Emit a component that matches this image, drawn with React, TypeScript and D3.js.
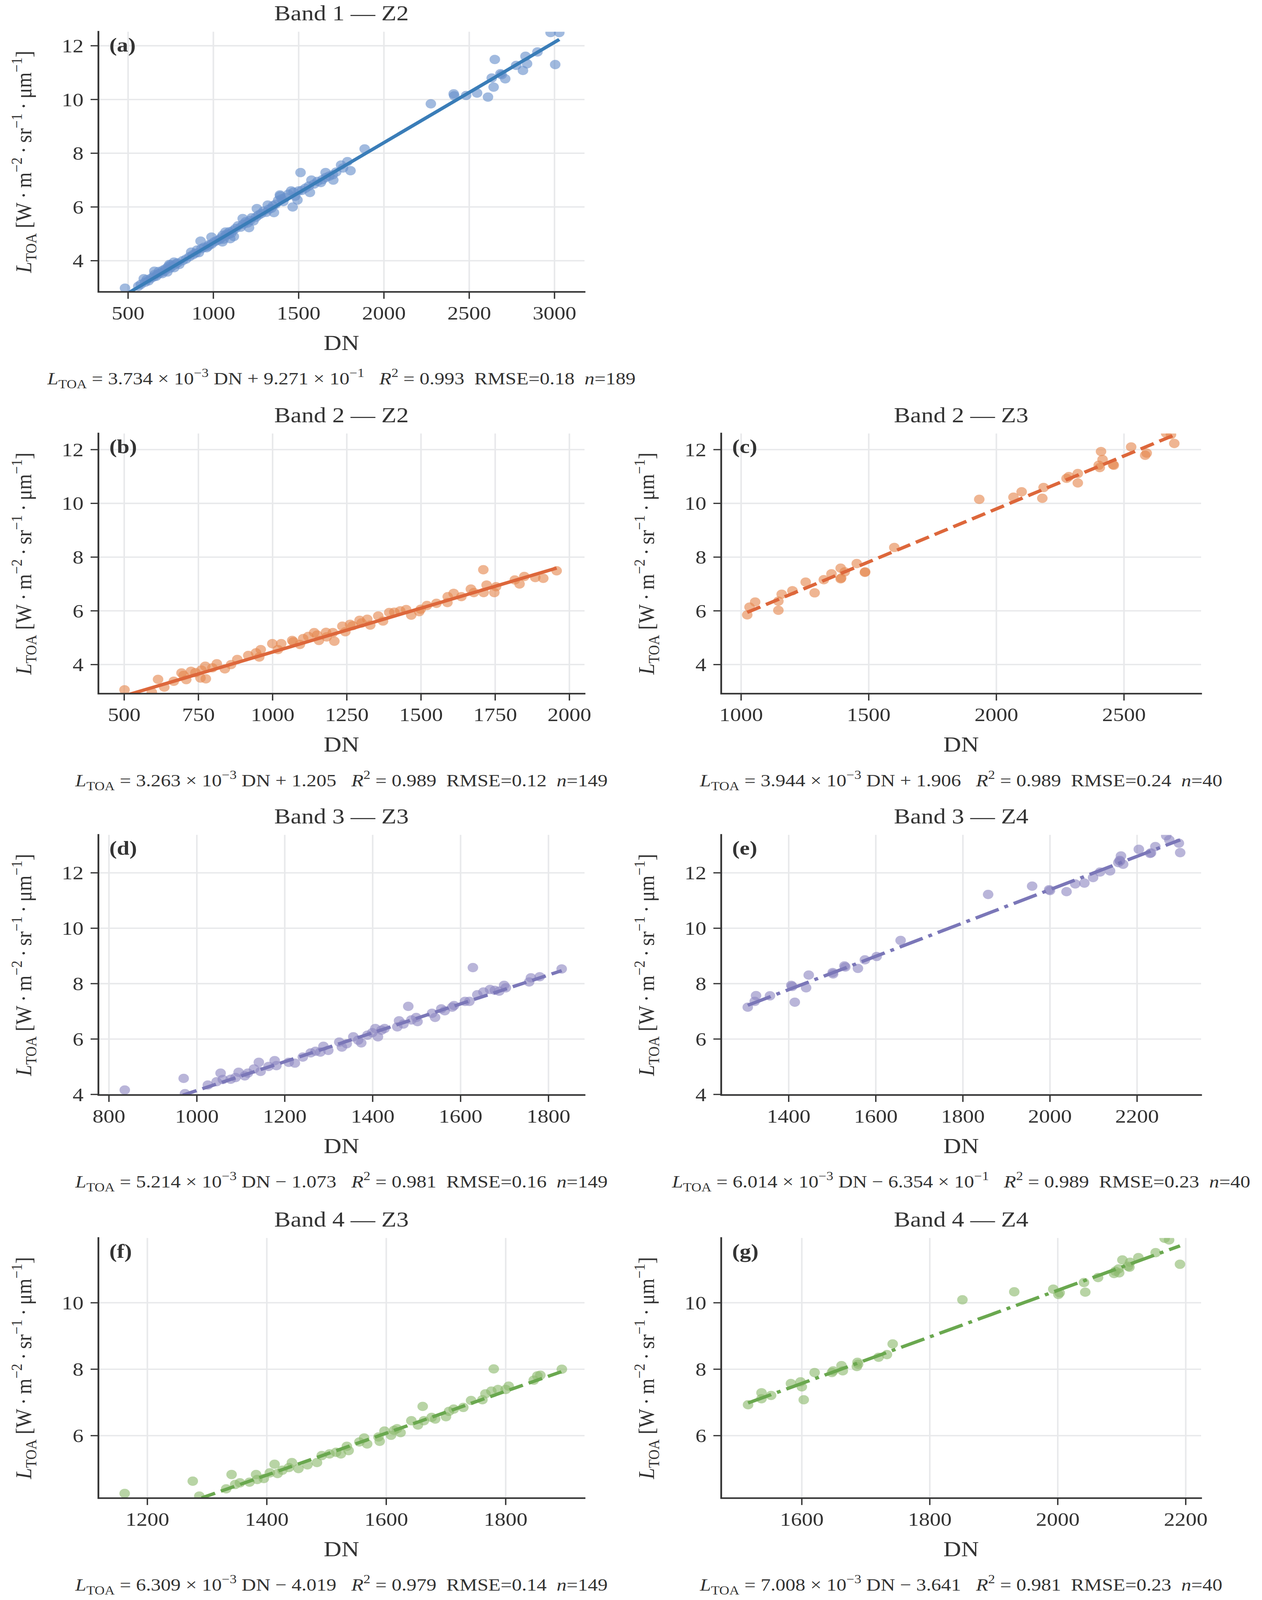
import React from 'react';
import * as d3 from 'd3';

type Pt = [number, number]; // [DN, L_TOA]

// ---- points (DN, L_TOA) ----
const band1Z2: Pt[] = [
  [482, 2.98], [560, 3.05], [575, 3.12], [592, 3.33], [600, 3.2], [610, 3.3], [620, 3.25], [635, 3.35],
  [650, 3.4], [654, 3.61], [655, 3.48], [665, 3.42], [675, 3.5], [680, 3.6], [690, 3.55], [700, 3.52],
  [705, 3.65], [715, 3.62], [720, 3.7], [730, 3.58], [735, 3.78], [742, 3.86], [745, 3.72], [750, 3.85],
  [760, 3.8], [769, 3.95], [770, 3.74], [780, 3.88], [790, 3.92], [800, 3.86], [820, 4.0], [840, 4.06],
  [860, 4.15], [870, 4.32], [880, 4.22], [895, 4.28], [905, 4.4], [915, 4.3], [925, 4.73], [930, 4.45],
  [945, 4.5], [960, 4.48], [970, 4.54], [975, 4.6], [989, 4.88], [990, 4.62], [1005, 4.7], [1020, 4.75],
  [1035, 4.78], [1045, 4.85], [1053, 4.7], [1055, 4.95], [1060, 4.8], [1070, 4.92], [1071, 5.07], [1080, 5.0],
  [1090, 4.98], [1095, 5.08], [1099, 4.82], [1105, 5.02], [1115, 5.12], [1120, 4.9], [1130, 5.2], [1145, 5.3],
  [1160, 5.25], [1172, 5.57], [1175, 5.36], [1190, 5.45], [1200, 5.4], [1209, 5.23], [1215, 5.5], [1225, 5.6],
  [1235, 5.48], [1250, 5.62], [1255, 5.94], [1265, 5.7], [1280, 5.75], [1295, 5.85], [1310, 5.8], [1319, 6.07],
  [1325, 5.92], [1340, 5.95], [1350, 6.05], [1355, 5.79], [1365, 6.1], [1380, 6.25], [1390, 6.45], [1392, 6.41],
  [1400, 6.3], [1410, 6.2], [1420, 6.35], [1440, 6.48], [1456, 6.6], [1465, 6.0], [1470, 6.55], [1480, 6.4],
  [1493, 6.26], [1500, 6.6], [1511, 7.28], [1520, 6.62], [1540, 6.7], [1560, 6.78], [1566, 6.54], [1575, 7.0],
  [1590, 6.85], [1610, 6.95], [1630, 6.91], [1640, 7.02], [1658, 7.28], [1660, 7.1], [1680, 7.15], [1700, 7.2],
  [1703, 7.0], [1720, 7.3], [1749, 7.56], [1760, 7.45], [1786, 7.69], [1804, 7.35], [1887, 8.16], [2275, 9.84],
  [2409, 10.21], [2412, 10.14], [2482, 10.15], [2546, 10.24], [2610, 10.09], [2632, 10.8], [2643, 10.46],
  [2650, 11.49], [2683, 10.96], [2690, 10.92], [2711, 10.77], [2775, 11.27], [2815, 11.08], [2830, 11.61],
  [2839, 11.33], [2900, 11.77], [2977, 12.49], [3004, 11.3], [3028, 12.49],
];

const band2Z2: Pt[] = [
  [501, 3.06], [593, 2.97], [614, 3.45], [635, 3.16], [667, 3.38], [693, 3.69], [700, 3.6], [709, 3.44],
  [725, 3.75], [740, 3.7], [757, 3.5], [760, 3.8], [773, 3.94], [775, 3.47], [797, 3.88], [812, 4.03],
  [839, 3.84], [860, 4.0], [881, 4.19], [918, 4.34], [944, 4.44], [955, 4.28], [960, 4.56], [999, 4.78],
  [1018, 4.56], [1029, 4.78], [1066, 4.9], [1070, 4.85], [1092, 4.75], [1103, 4.97], [1120, 5.05], [1140, 5.19],
  [1150, 5.1], [1156, 4.9], [1180, 5.2], [1182, 5.03], [1203, 5.19], [1208, 4.87], [1235, 5.43], [1245, 5.22],
  [1261, 5.5], [1270, 5.45], [1293, 5.65], [1300, 5.55], [1319, 5.69], [1329, 5.47], [1356, 5.81], [1372, 5.62],
  [1393, 5.94], [1410, 5.95], [1430, 6.0], [1450, 6.05], [1467, 5.84], [1494, 5.97], [1499, 6.06], [1520, 6.2],
  [1552, 6.28], [1589, 6.31], [1590, 6.53], [1610, 6.65], [1636, 6.53], [1668, 6.81], [1678, 6.68], [1710, 7.53],
  [1711, 6.68], [1721, 6.96], [1747, 6.68], [1753, 6.9], [1816, 7.15], [1832, 7.0], [1848, 7.28], [1885, 7.24],
  [1912, 7.21], [1957, 7.49],
];

const band2Z3: Pt[] = [
  [1024, 5.85], [1033, 6.14], [1055, 6.33], [1146, 6.02], [1146, 6.36], [1159, 6.62], [1201, 6.75], [1253, 7.07],
  [1288, 6.67], [1324, 7.16], [1354, 7.38], [1390, 7.59], [1390, 7.19], [1392, 7.22], [1406, 7.45], [1453, 7.76],
  [1485, 7.43], [1486, 7.45], [1600, 8.36], [1933, 10.15], [2067, 10.23], [2099, 10.43], [2180, 10.19], [2185, 10.59],
  [2275, 10.93], [2284, 11.0], [2319, 10.76], [2319, 11.11], [2401, 11.42], [2405, 11.33], [2410, 11.93], [2416, 11.63],
  [2457, 11.44], [2460, 11.42], [2528, 12.1], [2583, 11.79], [2589, 11.87], [2665, 12.61], [2684, 12.56], [2697, 12.23],
];

const band3Z3: Pt[] = [
  [836, 4.16], [970, 4.58], [973, 4.03], [1025, 4.34], [1045, 4.46], [1054, 4.77], [1059, 4.54], [1077, 4.55],
  [1088, 4.61], [1095, 4.8], [1109, 4.67], [1116, 4.77], [1130, 4.92], [1141, 5.16], [1145, 4.83], [1163, 5.01],
  [1177, 5.22], [1181, 5.04], [1209, 5.16], [1223, 5.13], [1241, 5.35], [1259, 5.5], [1270, 5.56], [1281, 5.53],
  [1288, 5.74], [1299, 5.59], [1324, 5.89], [1330, 5.71], [1341, 5.83], [1356, 6.08], [1367, 5.96], [1374, 5.86],
  [1388, 6.14], [1399, 6.23], [1406, 6.38], [1412, 6.08], [1420, 6.32], [1427, 6.38], [1456, 6.44], [1460, 6.66],
  [1470, 6.54], [1481, 7.18], [1488, 6.69], [1499, 6.78], [1502, 6.63], [1535, 6.93], [1542, 6.78], [1556, 7.09],
  [1564, 7.02], [1581, 7.15], [1585, 7.21], [1610, 7.36], [1620, 7.36], [1628, 8.58], [1638, 7.6], [1652, 7.7],
  [1667, 7.79], [1678, 7.76], [1688, 7.73], [1699, 7.94], [1703, 7.85], [1756, 8.06], [1760, 8.21], [1780, 8.25],
  [1830, 8.53],
];

const band3Z4: Pt[] = [
  [1306, 7.15], [1322, 7.36], [1325, 7.57], [1357, 7.56], [1406, 7.94], [1408, 7.9], [1414, 7.33], [1440, 7.85],
  [1446, 8.31], [1501, 8.4], [1502, 8.35], [1528, 8.64], [1530, 8.6], [1559, 8.55], [1575, 8.86], [1602, 8.98],
  [1657, 9.56], [1858, 11.22], [1959, 11.52], [1998, 11.39], [2000, 11.36], [2038, 11.32], [2058, 11.6], [2079, 11.63],
  [2099, 11.83], [2115, 12.03], [2138, 12.07], [2157, 12.37], [2161, 12.42], [2163, 12.61], [2168, 12.31], [2204, 12.85],
  [2230, 12.7], [2242, 12.95], [2267, 13.34], [2274, 13.19], [2296, 13.07], [2299, 12.73], [2160, 12.45], [2232, 12.72],
];

const band4Z3: Pt[] = [
  [1162, 4.26], [1276, 4.63], [1287, 4.18], [1332, 4.4], [1341, 4.83], [1347, 4.53], [1355, 4.58], [1371, 4.6],
  [1382, 4.83], [1384, 4.68], [1395, 4.71], [1405, 4.88], [1413, 5.14], [1418, 4.86], [1426, 4.96], [1437, 5.04],
  [1442, 5.19], [1453, 5.01], [1468, 5.12], [1484, 5.19], [1492, 5.4], [1505, 5.45], [1516, 5.5], [1524, 5.45],
  [1534, 5.68], [1537, 5.55], [1555, 5.81], [1563, 5.93], [1568, 5.75], [1587, 5.96], [1589, 5.83], [1597, 6.14],
  [1608, 6.01], [1613, 6.16], [1618, 6.21], [1624, 6.09], [1642, 6.45], [1653, 6.32], [1661, 6.88], [1663, 6.45],
  [1676, 6.55], [1682, 6.5], [1700, 6.57], [1705, 6.73], [1713, 6.8], [1729, 6.85], [1742, 7.06], [1761, 7.08],
  [1766, 7.26], [1776, 7.34], [1780, 8.01], [1787, 7.39], [1800, 7.39], [1805, 7.49], [1847, 7.67], [1853, 7.8],
  [1858, 7.82], [1894, 8.0],
];

const band4Z4: Pt[] = [
  [1516, 6.93], [1537, 7.29], [1537, 7.11], [1552, 7.21], [1583, 7.57], [1598, 7.62], [1600, 7.47], [1603, 7.08],
  [1620, 7.9], [1647, 7.9], [1649, 7.95], [1662, 8.11], [1664, 7.95], [1686, 8.08], [1687, 8.21], [1688, 8.15],
  [1720, 8.36], [1733, 8.44], [1742, 8.76], [1851, 10.09], [1932, 10.33], [1993, 10.41], [2001, 10.25], [2003, 10.3],
  [2041, 10.61], [2043, 10.32], [2063, 10.76], [2088, 10.88], [2095, 11.02], [2096, 10.9], [2101, 11.29], [2112, 11.07],
  [2113, 11.22], [2126, 11.36], [2153, 11.51], [2167, 11.94], [2174, 11.89], [2191, 11.16], [2090, 10.95], [2110, 11.1],
];

// ---- fit coefficients and printed statistics ----
const fitSlopes = [3.734e-3, 3.263e-3, 3.944e-3, 5.214e-3, 6.014e-3, 6.309e-3, 7.008e-3];
const fitIntercepts = [0.9271, 1.205, 1.906, -1.073, -0.6354, -4.019, -3.641];
const slopeText = ['3.734', '3.263', '3.944', '5.214', '6.014', '6.309', '7.008'];
const interceptText = ['9.271', '1.205', '1.906', '1.073', '6.354', '4.019', '3.641'];
const interceptExp = ['−1', '', '', '', '−1', '', ''];
const r2Text = ['0.993', '0.989', '0.989', '0.981', '0.989', '0.979', '0.981'];
const rmseText = ['0.18', '0.12', '0.24', '0.16', '0.23', '0.14', '0.23'];
const nText = ['189', '149', '40', '149', '40', '149', '40'];
const titles = ['Band 1 — Z2', 'Band 2 — Z2', 'Band 2 — Z3', 'Band 3 — Z3', 'Band 3 — Z4', 'Band 4 — Z3', 'Band 4 — Z4'];
const panelLetters = ['(a)', '(b)', '(c)', '(d)', '(e)', '(f)', '(g)'];

// ---- tick labels ----
const xTicksA = [500, 1000, 1500, 2000, 2500, 3000];
const xTicksB = [500, 750, 1000, 1250, 1500, 1750, 2000];
const xTicksC = [1000, 1500, 2000, 2500];
const xTicksD = [800, 1000, 1200, 1400, 1600, 1800];
const xTicksE = [1400, 1600, 1800, 2000, 2200];
const xTicksF = [1200, 1400, 1600, 1800];
const xTicksG = [1600, 1800, 2000, 2200];
const yTicksMain = [4, 6, 8, 10, 12];
const yTicksBand4 = [6, 8, 10];

const W = 3232;
const H = 4632;
// the photo only keeps the top 4096 rows, so the figure is fitted into that height
const SHOT_H = 4096;
const FONT = "'Liberation Serif', 'DejaVu Serif', serif";
const INK = '#333333';
const colLeft = [252, 1847];
const colRight = [1497, 3076];
const rowTop = [92, 1255, 2417, 3584];
const plotH = 753;

const BLUE = { line: '#3a7db8', dot: '#6890cb' };
const ORANGE = { line: '#dd673b', dot: '#e5874f' };
const PURPLE = { line: '#7b77b8', dot: '#8e87c2' };
const GREEN = { line: '#6aa84f', dot: '#8cba6e' };

const DASHED = '37 16';
const DASHDOT = '64 16 10 16';

const panels = [
  { row: 0, col: 0, data: band1Z2, xDomain: [326, 3176], yDomain: [2.84, 12.52], xTicks: xTicksA, yTicks: yTicksMain, color: BLUE, dash: undefined },
  { row: 1, col: 0, data: band2Z2, xDomain: [413, 2051], yDomain: [2.92, 12.6], xTicks: xTicksB, yTicks: yTicksMain, color: ORANGE, dash: undefined },
  { row: 1, col: 1, data: band2Z3, xDomain: [922, 2802], yDomain: [2.92, 12.6], xTicks: xTicksC, yTicks: yTicksMain, color: ORANGE, dash: DASHED },
  { row: 2, col: 0, data: band3Z3, xDomain: [776, 1882], yDomain: [3.98, 13.37], xTicks: xTicksD, yTicks: yTicksMain, color: PURPLE, dash: DASHED },
  { row: 2, col: 1, data: band3Z4, xDomain: [1245, 2347], yDomain: [3.98, 13.37], xTicks: xTicksE, yTicks: yTicksMain, color: PURPLE, dash: DASHDOT },
  { row: 3, col: 0, data: band4Z3, xDomain: [1118, 1932], yDomain: [4.12, 11.95], xTicks: xTicksF, yTicks: yTicksBand4, color: GREEN, dash: DASHED },
  { row: 3, col: 1, data: band4Z4, xDomain: [1474, 2224], yDomain: [4.12, 11.95], xTicks: xTicksG, yTicks: yTicksBand4, color: GREEN, dash: DASHDOT },
];

type Seg = [string, 'n' | 'i' | 'sub' | 'sup'];

// mathtext-like run of tspans; shifts are relative to the baseline
const RichText = ({ segs, size, ...rest }: { segs: Seg[]; size: number; [k: string]: any }) => {
  let shift = 0;
  const small = size * 0.7;
  return (
    <text fontSize={size} style={{ whiteSpace: 'pre' }} {...rest}>
      {segs.map(([t, kind], i) => {
        const target = kind === 'sub' ? size * 0.22 : kind === 'sup' ? -size * 0.42 : 0;
        const dy = target - shift;
        shift = target;
        return (
          <tspan
            key={i}
            dy={dy}
            fontSize={kind === 'sub' || kind === 'sup' ? small : size}
            fontStyle={kind === 'i' ? 'italic' : 'normal'}
          >
            {t}
          </tspan>
        );
      })}
    </text>
  );
};

const eqSegs = (i: number): Seg[] => {
  const sign = fitIntercepts[i] < 0 ? '−' : '+';
  const segs: Seg[] = [
    ['L', 'i'], ['TOA', 'sub'], [` = ${slopeText[i]} × 10`, 'n'], ['−3', 'sup'],
    [` DN ${sign} ${interceptText[i]}`, 'n'],
  ];
  if (interceptExp[i]) segs.push([' × 10', 'n'], [interceptExp[i], 'sup']);
  segs.push(['   ', 'n'], ['R', 'i'], ['2', 'sup'], [` = ${r2Text[i]}  RMSE=${rmseText[i]}  `, 'n'], ['n', 'i'], [`=${nText[i]}`, 'n']);
  return segs;
};

const yLabelSegs: Seg[] = [
  ['L', 'i'], ['TOA', 'sub'], [' [W\u2009·\u2009m', 'n'], ['−2', 'sup'], ['\u2009·\u2009sr', 'n'], ['−1', 'sup'],
  ['\u2009·\u2009μm', 'n'], ['−1', 'sup'], [']', 'n'],
];

const Panel = ({ idx }: { idx: number }) => {
  const p = panels[idx];
  const left = colLeft[p.col];
  const right = colRight[p.col];
  const top = rowTop[p.row];
  const bottom = top + plotH;
  const x = d3.scaleLinear().domain(p.xDomain).range([left, right]);
  const y = d3.scaleLinear().domain(p.yDomain).range([bottom, top]);
  const [x0, x1] = d3.extent(p.data, (d) => d[0]) as [number, number];
  const fit = (v: number) => fitSlopes[idx] * v + fitIntercepts[idx];
  const linePath = d3.line<number>().x((v) => x(v)).y((v) => y(fit(v)))([x0, x1]) || '';
  const cx = (left + right) / 2;
  const clipId = `clip-${idx}`;

  return (
    <g>
      <defs>
        <clipPath id={clipId}>
          <rect x={left} y={top} width={right - left} height={plotH} />
        </clipPath>
      </defs>
      {/* grid */}
      <g stroke="#e8e9eb" strokeWidth={4}>
        {p.xTicks.map((t) => (
          <line key={`gx${t}`} x1={x(t)} x2={x(t)} y1={top} y2={bottom} />
        ))}
        {p.yTicks.map((t) => (
          <line key={`gy${t}`} x1={left} x2={right} y1={y(t)} y2={y(t)} />
        ))}
      </g>
      <g clipPath={`url(#${clipId})`}>
        {p.data.map((d, i) => (
          <circle key={i} cx={x(d[0])} cy={y(d[1])} r={13.5} fill={p.color.dot} fillOpacity={0.62} />
        ))}
        <path d={linePath} fill="none" stroke={p.color.line} strokeWidth={9.5} strokeDasharray={p.dash} />
      </g>
      {/* spines */}
      <path d={`M${left},${top}V${bottom}H${right}`} fill="none" stroke={INK} strokeWidth={4.5} strokeLinecap="square" />
      {/* ticks */}
      <g stroke={INK} strokeWidth={3.5}>
        {p.xTicks.map((t) => (
          <line key={`tx${t}`} x1={x(t)} x2={x(t)} y1={bottom} y2={bottom + 20} />
        ))}
        {p.yTicks.map((t) => (
          <line key={`ty${t}`} x1={left - 20} x2={left} y1={y(t)} y2={y(t)} />
        ))}
      </g>
      <g fontFamily={FONT} fill={INK} fontSize={56}>
        {p.xTicks.map((t) => (
          <text key={`lx${t}`} x={x(t)} y={bottom + 80} textAnchor="middle">{t}</text>
        ))}
        {p.yTicks.map((t) => (
          <text key={`ly${t}`} x={left - 38} y={y(t)} dy="0.34em" textAnchor="end">{t}</text>
        ))}
      </g>
      <g fontFamily={FONT} fill={INK}>
        <text x={cx} y={top - 33} fontSize={63} textAnchor="middle">{titles[idx]}</text>
        <text x={left + 28} y={top + 57} fontSize={58} fontWeight="bold">{panelLetters[idx]}</text>
        <text x={cx} y={bottom + 168} fontSize={63} textAnchor="middle">DN</text>
        <RichText segs={eqSegs(idx)} size={51} x={cx} y={bottom + 268} textAnchor="middle" />
        <RichText
          segs={yLabelSegs}
          size={58}
          x={0}
          y={0}
          textAnchor="middle"
          transform={`translate(${left - 172},${(top + bottom) / 2}) rotate(-90)`}
        />
      </g>
    </g>
  );
};

export default function App() {
  return (
    <svg
      width={W}
      height={SHOT_H}
      viewBox={`0 0 ${W} ${H}`}
      preserveAspectRatio="none"
      style={{ display: 'block', margin: -8, background: '#ffffff' }}
    >
      <rect width={W} height={H} fill="#ffffff" />
      {panels.map((_, i) => (
        <Panel key={i} idx={i} />
      ))}
    </svg>
  );
}
